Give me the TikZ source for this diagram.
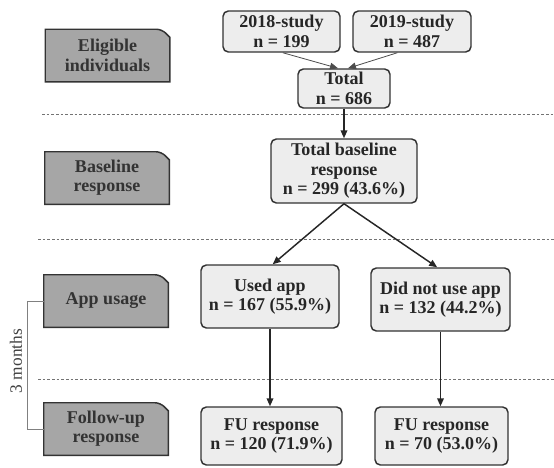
\documentclass[tikz,border=0pt]{standalone}
\usepackage{fontspec}
\setmainfont{Liberation Serif}
\usetikzlibrary{arrows.meta,backgrounds}

\begin{document}
\begin{tikzpicture}[x=0.75pt,y=-0.75pt,
		stagebox/.style={minimum width=93pt,minimum height=39pt,inner sep=0pt,align=center,
			font=\bfseries\fontsize{13.5}{14.5}\selectfont,text=black!80},
		stageshape/.style={draw=black!80,line width=1.1pt,fill=black!35},
		countbox/.style={draw=black!80,line width=1.1pt,fill=black!7,rounded corners=4pt,inner sep=0pt,
			align=center,font=\bfseries\fontsize{13.5}{14.5}\selectfont,text=black!85},
		flow/.style={-{Triangle[length=6pt,width=5pt]},line width=1.1pt,draw=black!85},
		thinflow/.style={-{Triangle[length=6pt,width=5pt]},line width=0.6pt,draw=black!70},
		divider/.style={dash pattern=on 2pt off 1.5pt,black!55,line width=0.6pt},
		bracket/.style={black!50,line width=0.6pt}]
		\useasboundingbox (0,0) rectangle (554,468);
		
		% stage labels on the left
		\node[stagebox] (elig) at (107.5,55.5) {Eligible\\individuals};
		\node[stagebox] (basel) at (107,178) {Baseline\\response};
		\node[stagebox] (usage) at (106,301) {App usage};
		\node[stagebox] (follow) at (106,429) {Follow-up\\response};
		\begin{scope}[on background layer]
			\foreach \n in {elig,basel,usage,follow}
			\draw[stageshape] (\n.south west) -- (\n.north west) [rounded corners=4pt]
			-- ([xshift=-6pt]\n.north east) [sharp corners] -- ([yshift=-6pt]\n.north east)
			-- (\n.south east) -- cycle;
		\end{scope}
		
		% counts
		\node[countbox,minimum width=87.75pt,minimum height=30.75pt] (s18) at (281.5,31.5) {2018-study\\n = 199};
		\node[countbox,minimum width=88.5pt,minimum height=30.75pt] (s19) at (412,31.5) {2019-study\\n = 487};
		\node[countbox,minimum width=69pt,minimum height=29.25pt] (total) at (344,88.5) {Total\\n = 686};
		\node[countbox,minimum width=109.5pt,minimum height=48pt] (base) at (344,171) {Total baseline\\response\\n = 299 (43.6\%)};
		\node[countbox,minimum width=103.5pt,minimum height=47.25pt] (used) at (270,296.5) {Used app\\n = 167 (55.9\%)};
		\node[countbox,minimum width=104.25pt,minimum height=47.25pt] (notused) at (440.5,299.5) {Did not use app\\n = 132 (44.2\%)};
		\node[countbox,minimum width=105.75pt,minimum height=43.5pt] (fu1) at (271.5,436) {FU response\\n = 120 (71.9\%)};
		\node[countbox,minimum width=99.75pt,minimum height=43.5pt] (fu2) at (441.5,436) {FU response\\n = 70 (53.0\%)};
		
		% separators
		\draw[divider] (42,114) -- (554,114);
		\draw[divider] (38,239) -- (554,239);
		\draw[divider] (38,379) -- (554,379);
		
		% 3 months bracket
		\draw[bracket] (usage.west) -- ++(-16,0) |- (follow.west);
		\node[rotate=90,font=\fontsize{13}{14}\selectfont,text=black!75] (months) at (16,361) {3 months};
		
		% arrows
		\draw[thinflow] ([xshift=1pt]s18.south) -- ([xshift=-4.5pt]total.north);
		\draw[thinflow] ([xshift=-11pt]s19.south) -- ([xshift=3pt]total.north);
		\draw[flow] (total.south) -- (base.north);
		\draw[flow] (base.south) -- ([xshift=2pt]used.north);
		\draw[flow] (base.south) -- ([xshift=-2.5pt]notused.north);
		\draw[flow] (used.south) -- (used.south |- fu1.north);
		\draw[flow] (notused.south) -- (notused.south |- fu2.north);
	\end{tikzpicture}
\end{document}
